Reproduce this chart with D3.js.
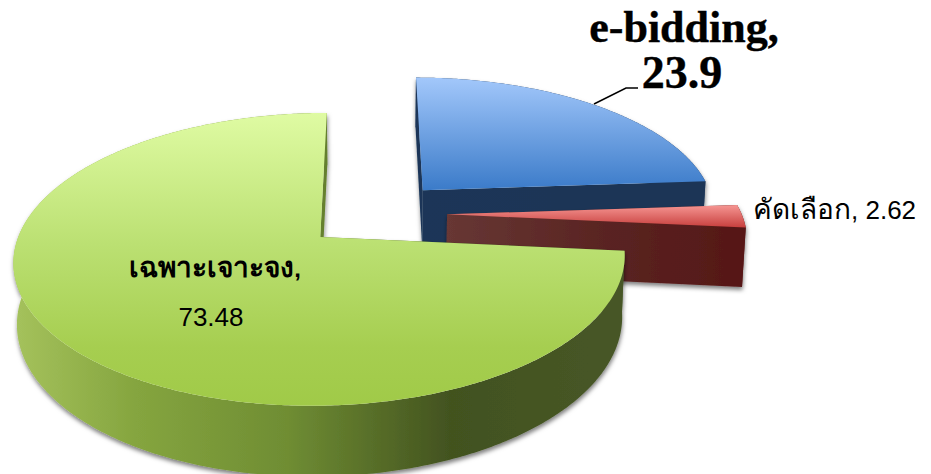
<!DOCTYPE html>
<html>
<head>
<meta charset="utf-8">
<script src="https://cdn.jsdelivr.net/npm/d3@7"></script>
<style>
  html, body { margin: 0; padding: 0; background: #fff; }
  svg { display: block; }
</style>
</head>
<body>
<svg id="chart" width="931" height="474"></svg>
<script>
const categories = ['e-bidding', 'คัดเลือก', 'เฉพาะเจาะจง'];
const values = [23.9, 2.62, 73.48];

const width = 931, height = 474;
const svg = d3.select('#chart');

// pie geometry
const radius = 302;
const explode = 74;
const pieX = 375, pieDepth = -50;   // pie centre before exploding
const vanishX = 370, horizonY = 237;
const squash = 143 / 302;
const persp = 0.1535;
const wallHeight = 60;
const bottomShrink = 0.99;

const slices = d3.pie().sort(null).value(d => d)(values);

// colours, one entry per slice
const topStops = [
  [[0, '#a3c8fb'], [1, '#3b7bc9']],
  [[0, '#f89a97'], [1, '#c63d3b']],
  [[0, '#dffba3'], [0.45, '#bbe072'], [0.8, '#a6ce50'], [1, '#a0ca48']]
];
const topRange = [[77, 190], [204, 228], [113, 406]];
const wallStops = [
  [[0, '#1a3658'], [1, '#1b3556']],
  [[0, '#673734'], [0.5, '#5a2523'], [1, '#561716']],
  [[0, '#a5c25c'], [0.2, '#85a53f'], [0.45, '#6f8d33'], [0.72, '#42521f'], [1, '#475727']]
];
const wallRange = [[416, 704], [447, 744], [14, 622]];

const defs = svg.append('defs');

function gradient(id, stops, range, vertical) {
  const g = defs.append('linearGradient')
    .attr('id', id)
    .attr('gradientUnits', 'userSpaceOnUse')
    .attr('x1', vertical ? 0 : range[0]).attr('x2', vertical ? 0 : range[1])
    .attr('y1', vertical ? range[0] : 0).attr('y2', vertical ? range[1] : 0);
  stops.forEach(s => g.append('stop').attr('offset', s[0]).attr('stop-color', s[1]));
}

slices.forEach((s, i) => {
  gradient('top' + i, topStops[i], topRange[i], true);
  gradient('wall' + i, wallStops[i], wallRange[i], false);
});

const shadow = defs.append('filter').attr('id', 'shadow')
  .attr('x', '-10%').attr('y', '-10%').attr('width', '120%').attr('height', '130%');
shadow.append('feDropShadow')
  .attr('dx', 0.5).attr('dy', 3).attr('stdDeviation', 2)
  .attr('flood-color', '#000').attr('flood-opacity', 0.5);

// slice-local point (r 0..1, angle) -> screen, with the perspective of the 3D pie
function project(s, r, a, lower) {
  const mid = (s.startAngle + s.endAngle) / 2;
  const wx = pieX + explode * Math.sin(mid) + radius * r * Math.sin(a);
  const wz = pieDepth - explode * Math.cos(mid) - radius * r * Math.cos(a);
  const g = 1 / (1 - persp * wz / radius);
  let x = vanishX + (wx - vanishX) * g;
  let y = horizonY + squash * wz * g;
  if (lower) {
    x = vanishX + (x - vanishX) * bottomShrink;
    y += wallHeight * g;
  }
  return [x, y];
}

const line = d3.line();

function rim(s, lower) {
  const angles = d3.range(s.startAngle, s.endAngle, 0.01).concat(s.endAngle);
  return angles.map(a => project(s, 1, a, lower));
}

function face(s, a) {
  return [project(s, 0, a, false), project(s, 1, a, false), project(s, 1, a, true), project(s, 0, a, true)];
}

const groups = svg.selectAll('g.slice').data(slices).join('g').attr('class', 'slice');

groups.each(function (s, i) {
  const g = d3.select(this);
  const side = g.append('g').attr('filter', 'url(#shadow)');
  side.append('path')
    .attr('d', line(rim(s, false).concat(rim(s, true).reverse())) + 'Z')
    .attr('fill', `url(#wall${i})`);
  side.append('path').attr('d', line(face(s, s.startAngle)) + 'Z').attr('fill', `url(#wall${i})`);
  side.append('path').attr('d', line(face(s, s.endAngle)) + 'Z').attr('fill', `url(#wall${i})`);
  g.append('path')
    .attr('d', line([project(s, 0, s.startAngle, false)].concat(rim(s, false))) + 'Z')
    .attr('fill', `url(#top${i})`);
});

// labels
const sans = "'Liberation Sans', Arial, sans-serif";
const serif = "'Liberation Serif', serif";

svg.append('text').attr('x', 684).attr('y', 42).attr('text-anchor', 'middle')
  .attr('font-family', serif).attr('font-weight', 700).attr('font-size', 44)
  .attr('stroke', '#000').attr('stroke-width', 0.4)
  .text(categories[0] + ',');
svg.append('text').attr('x', 682).attr('y', 88).attr('text-anchor', 'middle')
  .attr('font-family', serif).attr('font-weight', 700).attr('font-size', 46)
  .attr('stroke', '#000').attr('stroke-width', 0.4)
  .text(values[0]);
svg.append('path').attr('d', line([[594, 104], [626, 88], [638, 88]]))
  .attr('fill', 'none').attr('stroke', '#000').attr('stroke-width', 1.5);

const red = svg.append('text').attr('x', 753).attr('y', 219).attr('font-family', sans);
red.append('tspan').attr('font-size', 28).text(categories[1]);
red.append('tspan').attr('font-size', 26).text(', ' + values[1]);

const green = svg.append('text').attr('x', 215).attr('y', 277).attr('text-anchor', 'middle')
  .attr('font-family', sans).attr('font-weight', 700).attr('font-size', 28);
green.append('tspan').text(categories[2]);
green.append('tspan').attr('font-size', 24).text(',');

svg.append('text').attr('x', 211).attr('y', 326).attr('text-anchor', 'middle')
  .attr('font-family', sans).attr('font-size', 26)
  .text(values[2]);
</script>
</body>
</html>
